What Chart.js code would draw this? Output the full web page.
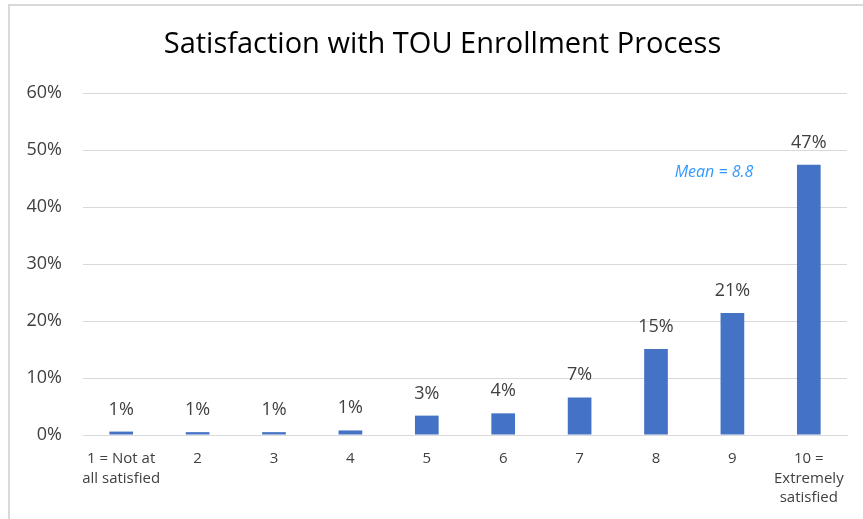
<!DOCTYPE html>
<html>
<head>
<meta charset="utf-8">
<script src="https://cdn.jsdelivr.net/npm/chart.js@4.4.1/dist/chart.umd.min.js"></script>
<style>
  html, body { margin: 0; padding: 0; background: #fff; overflow: hidden; }
  #frame { position: absolute; left: 8px; top: 4px; width: 900px; height: 560px; border: 2px solid #d9d9d9; }
  #wrap { position: absolute; left: 0; top: 0; width: 863px; height: 519px; }
</style>
</head>
<body>
<div id="frame"></div>
<div id="wrap"><canvas id="grafico"></canvas></div>
<script>
const categorias = [
  ['1 = Not at', 'all satisfied'], '2', '3', '4', '5', '6', '7', '8', '9',
  ['10 =', 'Extremely', 'satisfied']
];
const porcentajes = [0.6, 0.5, 0.5, 0.8, 3.4, 3.8, 6.6, 15.1, 21.4, 47.4];
const ticksY = [0, 10, 20, 30, 40, 50, 60];
const titulo = 'Satisfaction with TOU Enrollment Process';
const textoMedia = 'Mean = 8.8';

const fuente = "'Open Sans', sans-serif";

const etiquetasBarras = {
  id: 'etiquetasBarras',
  afterDatasetsDraw(chart) {
    const ctx = chart.ctx;
    const meta = chart.getDatasetMeta(0);
    ctx.save();
    // titulo centrado en el marco
    ctx.font = '29px ' + fuente;
    ctx.fillStyle = '#000';
    ctx.textAlign = 'center';
    ctx.textBaseline = 'alphabetic';
    ctx.fillText(titulo, 442.5, 53);

    ctx.font = '18px ' + fuente;
    ctx.fillStyle = '#404040';
    meta.data.forEach((bar, i) => {
      ctx.fillText(Math.round(porcentajes[i]) + '%', bar.x, bar.y - 17);
    });
    // texto de la media
    const x = chart.scales.x.getPixelForValue(8) + 21;
    const y = chart.scales.y.getPixelForValue(46.1);
    ctx.font = 'italic 16px ' + fuente;
    ctx.fillStyle = '#3399ff';
    ctx.textAlign = 'right';
    ctx.textBaseline = 'middle';
    ctx.fillText(textoMedia, x, y);
    ctx.restore();
  }
};

const ctx = document.getElementById('grafico').getContext('2d');
new Chart(ctx, {
  type: 'bar',
  data: {
    labels: categorias,
    datasets: [{
      data: porcentajes,
      backgroundColor: '#4472c4',
      barPercentage: 0.31,
      categoryPercentage: 1
    }]
  },
  options: {
    responsive: true,
    maintainAspectRatio: false,
    animation: false,
    layout: { padding: { left: 0, right: 16, top: 93, bottom: 0 } },
    plugins: {
      legend: { display: false },
      tooltip: { enabled: false },
      title: { display: false }
    },
    scales: {
      x: {
        afterFit(scale) { scale.height = 84; },
        grid: { display: false },
        border: { display: true, color: '#d9d9d9' },
        ticks: {
          color: '#404040',
          font: { family: fuente, size: 15, lineHeight: 1.3 },
          maxRotation: 0,
          autoSkip: false,
          padding: 6
        }
      },
      y: {
        min: 0,
        max: 60,
        afterBuildTicks(scale) { scale.ticks = ticksY.map(v => ({ value: v })); },
        afterFit(scale) { scale.width = 83; },
        grid: { color: '#d9d9d9', drawTicks: false },
        border: { display: false },
        ticks: {
          color: '#404040',
          font: { family: fuente, size: 18 },
          padding: 21,
          callback: v => v + '%'
        }
      }
    }
  },
  plugins: [etiquetasBarras]
});
</script>
</body>
</html>
